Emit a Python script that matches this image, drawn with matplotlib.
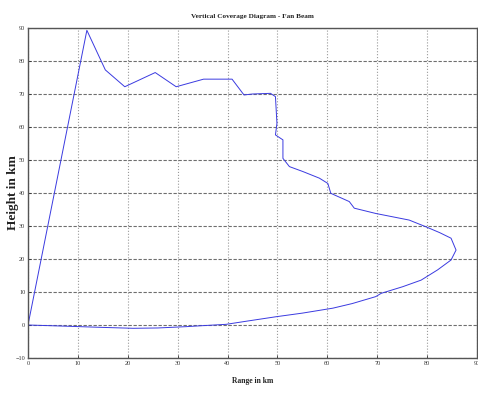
import matplotlib
matplotlib.use("Agg")
import matplotlib.pyplot as plt

# Vertical coverage contour (range km, height km)
range_km = [0, 11.8, 15.5, 19.4, 25.5, 29.7, 35.2, 40.9, 43.3, 45.0, 48.6, 49.6,
            49.9, 49.6, 51.1, 51.1, 52.4, 55.1, 58.4, 60.1, 60.7, 64.4, 65.4,
            69.7, 76.4, 79.7, 82.5, 84.8, 85.8, 84.8, 82.1, 78.8, 75.1, 70.8,
            69.7, 65.0, 61.1, 55.0, 49.7, 44.0, 39.7, 35.0, 31.7, 26.0, 21.1,
            14.4, 6.4, 0]
height_km = [0, 89.3, 77.3, 72.2, 76.5, 72.2, 74.5, 74.5, 69.7, 70.0, 70.2, 69.2,
             61.1, 57.6, 56.1, 50.5, 48.0, 46.5, 44.5, 42.9, 39.9, 37.4, 35.4,
             33.8, 31.8, 29.8, 28.0, 26.3, 22.7, 19.7, 16.7, 13.6, 11.6, 9.6,
             8.6, 6.5, 5.1, 3.6, 2.5, 1.2, 0.2, -0.2, -0.5, -0.9, -1.0,
             -0.7, -0.3, 0]

x_ticks = [0, 10, 20, 30, 40, 50, 60, 70, 80, 90]
y_ticks = [-10, 0, 10, 20, 30, 40, 50, 60, 70, 80, 90]

title = "Vertical Coverage Diagram - Fan Beam"
xlabel = "Range in km"
ylabel = "Height in km"

fig = plt.figure(figsize=(4.78, 3.96), dpi=100)
ax = fig.add_axes([28/478, 1-358/396, 449/478, 330/396])

ax.plot(range_km, height_km, color="#3a3ae0", linewidth=0.7)

ax.set_xlim(0, 90)
ax.set_ylim(-10, 90)
ax.set_xticks(x_ticks)
ax.set_yticks(y_ticks)

ax.xaxis.grid(True, color="#999999", linestyle=":", linewidth=0.8)
ax.yaxis.grid(True, color="#6e6e6e", linestyle=(0, (3, 1.5)), linewidth=0.8)
ax.set_axisbelow(True)

for s in ax.spines.values():
    s.set_color("#555555")
    s.set_linewidth(1.0)

fam = ["Liberation Serif", "DejaVu Serif"]
ax.tick_params(direction="in", length=2.5, width=0.6, labelsize=4.5,
               colors="#333333", pad=2)
for lab in ax.get_xticklabels() + ax.get_yticklabels():
    lab.set_fontfamily(fam)

ax.set_title(title, fontsize=5.2, fontweight="bold", family=fam,
             color="#222222", pad=7)
ax.set_xlabel(xlabel, fontsize=5.5, fontweight="bold", family=fam,
              color="#222222", labelpad=8)
ax.set_ylabel(ylabel, fontsize=9.5, fontweight="bold", family=fam,
              color="#222222")
ax.yaxis.set_label_coords(-0.02, 0.5)

fig.savefig("out.png", dpi=100)
